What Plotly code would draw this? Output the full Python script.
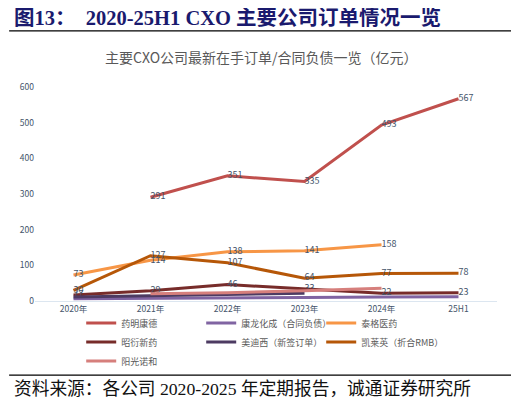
import plotly.graph_objects as go

# categories / series (亿元)
periods = ["2020年", "2021年", "2022年", "2023年", "2024年", "25H1"]

wuxi_apptec = [None, 291, 351, 335, 493, 567]      # 药明康德
pharmaron = [6, 8, 9, 10, 11, 12]                 # 康龙化成（合同负债）
tigermed = [73, 114, 138, 141, 158, None]         # 泰格医药
joinn = [17, 29, 46, 33, 22, 23]                  # 昭衍新药
medicilon = [11, 15, 17, 22, None, None]          # 美迪西（新签订单）
asymchem = [30, 127, 107, 64, 77, 78]             # 凯莱英（折合RMB）
sunshine = [None, 20, 23, 29, 36, None]           # 阳光诺和

series = [
    ("药明康德", wuxi_apptec, "#C0504D", True),
    ("康龙化成（合同负债）", pharmaron, "#8064A2", False),
    ("泰格医药", tigermed, "#F79646", True),
    ("昭衍新药", joinn, "#772C2A", True),
    ("美迪西（新签订单）", medicilon, "#4D3B62", False),
    ("凯莱英（折合RMB）", asymchem, "#B65708", True),
    ("阳光诺和", sunshine, "#D67F7C", False),
]

CJK = "Noto Sans CJK SC, sans-serif"
SERIF = "Liberation Serif, Noto Sans CJK SC, serif"
LBL = "#44546A"

fig = go.Figure()
for name, vals, color, labelled in series:
    fig.add_trace(go.Scatter(
        x=periods, y=vals, name=name,
        mode="lines+text" if labelled else "lines",
        line=dict(color=color, width=3),
        text=[("" if v is None else str(v)) for v in vals] if labelled else None,
        textposition="middle right",
        textfont=dict(size=9, color=LBL, family=CJK),
        connectgaps=False,
        hoverinfo="skip",
    ))

# the page body has an 8px margin, so the figure is sized to fit inside it
fig.update_layout(
    width=503, height=390,
    margin=dict(l=23, r=14, t=79, b=97),
    paper_bgcolor="white", plot_bgcolor="white",
    font=dict(family=CJK, color=LBL),
    showlegend=True,
    legend=dict(
        orientation="h", x=0.10, y=-0.035, xanchor="left", yanchor="top",
        entrywidth=75, entrywidthmode="pixels",
        bgcolor="rgba(0,0,0,0)",
        font=dict(size=9, color="#595959", family=CJK),
        itemwidth=30, tracegroupgap=0,
    ),
    xaxis=dict(
        type="category", range=[-0.5, 5.5], showgrid=False, ticks="",
        showline=True, linecolor="#DCE6F0", linewidth=1,
        tickfont=dict(size=8.5, color=LBL),
    ),
    yaxis=dict(
        range=[0, 600], dtick=100, showgrid=False, zeroline=False,
        showline=False, ticks="", tickfont=dict(size=8.5, color=LBL),
    ),
)

# header, inner title, source line
fig.add_annotation(
    text="<b>图13：  2020-25H1 CXO 主要公司订单情况一览</b>",
    xref="paper", yref="paper", x=-0.049, y=1.322,
    xanchor="left", yanchor="middle", showarrow=False,
    font=dict(size=20.5, color="#1A1A6E", family=SERIF),
)
fig.add_annotation(
    text="主要CXO公司最新在手订单/合同负债一览（亿元）",
    xref="paper", yref="paper", x=0.49, y=1.14,
    xanchor="center", yanchor="middle", showarrow=False,
    font=dict(size=14, color="#595959", family=CJK),
)
fig.add_annotation(
    text="资料来源：各公司 2020-2025 年定期报告，诚通证券研究所",
    xref="paper", yref="paper", x=-0.049, y=-0.41,
    xanchor="left", yanchor="middle", showarrow=False,
    font=dict(size=17.7, color="#111111", family=SERIF),
)
fig.add_shape(type="line", xref="paper", yref="paper",
              x0=-0.056, x1=1.034, y0=1.262, y1=1.262,
              line=dict(color="black", width=1.2))
fig.add_shape(type="line", xref="paper", yref="paper",
              x0=-0.056, x1=1.034, y0=-0.346, y1=-0.346,
              line=dict(color="black", width=1.2))

fig.write_html("out.html")
